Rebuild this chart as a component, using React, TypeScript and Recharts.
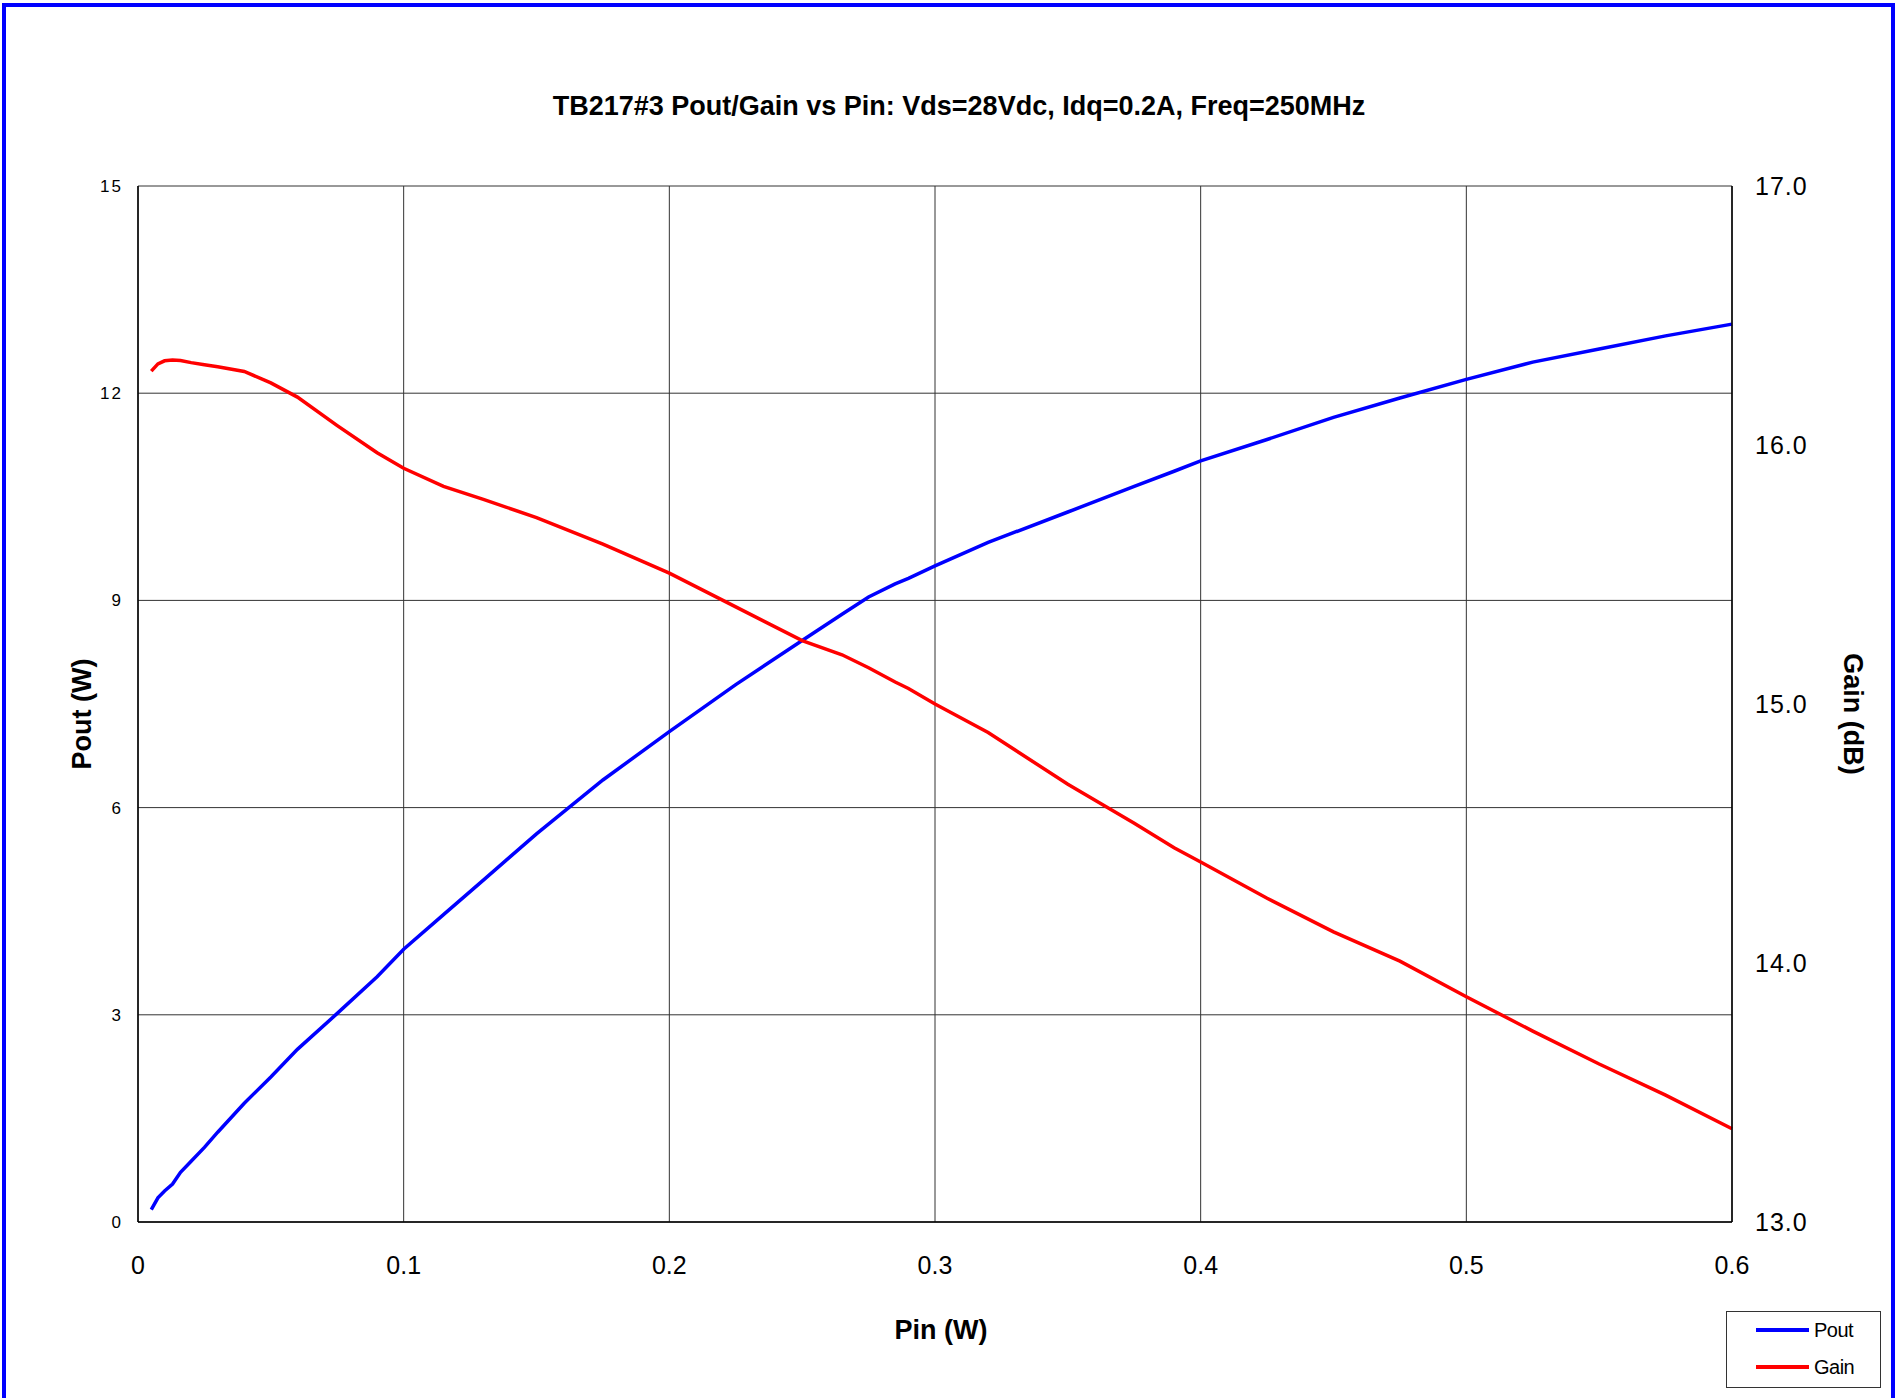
import React from 'react';
import { CartesianGrid, Legend, Line, LineChart, XAxis, YAxis } from 'recharts';

// Pin (W) sample points
const pinW = [
  0.005, 0.0075, 0.01, 0.013, 0.016, 0.02, 0.025, 0.03, 0.04, 0.05, 0.06, 0.075,
  0.09, 0.1, 0.115, 0.13, 0.15, 0.175, 0.2, 0.225, 0.25, 0.265, 0.275, 0.285,
  0.29, 0.3, 0.32, 0.35, 0.375, 0.39, 0.4, 0.425, 0.45, 0.475, 0.5, 0.525, 0.55,
  0.575, 0.6,
];

const poutW = [
  0.18, 0.35, 0.45, 0.55, 0.72, 0.88, 1.08, 1.3, 1.72, 2.1, 2.5, 3.02,
  3.55, 3.95, 4.45, 4.95, 5.62, 6.4, 7.1, 7.78, 8.42, 8.8, 9.05, 9.24,
  9.32, 9.5, 9.84, 10.28, 10.65, 10.87, 11.02, 11.33, 11.65, 11.93, 12.2, 12.45, 12.64,
  12.83, 13.0,
];

const gainDb = [
  16.285, 16.313, 16.325, 16.328, 16.326, 16.318, 16.31, 16.302, 16.284, 16.24, 16.185, 16.075,
  15.97, 15.91, 15.84, 15.79, 15.72, 15.617, 15.505, 15.375, 15.245, 15.19, 15.14, 15.085,
  15.06, 15.0, 14.89, 14.69, 14.54, 14.445, 14.39, 14.25, 14.12, 14.007, 13.87, 13.737, 13.61,
  13.49, 13.36,
];

const xTicks = [0, 0.1, 0.2, 0.3, 0.4, 0.5, 0.6];
const poutTicks = [0, 3, 6, 9, 12, 15];
const gainTicks = [13, 14, 15, 16, 17];

const data = pinW.map((pin, i) => ({ pin, pout: poutW[i], gain: gainDb[i] }));

const FONT = '"Liberation Sans", Arial, sans-serif';

const LegendBox = () => (
  <div
    style={{
      boxSizing: 'border-box',
      width: 155,
      height: 77,
      border: '1px solid #333',
      background: '#fff',
      fontFamily: FONT,
      fontSize: 20,
      color: '#000',
      position: 'relative',
    }}
  >
    {[
      { name: 'Pout', color: '#0000ff', top: 18 },
      { name: 'Gain', color: '#ff0000', top: 55 },
    ].map((item) => (
      <div key={item.name}>
        <div
          style={{
            position: 'absolute',
            left: 29,
            top: item.top - 2,
            width: 53,
            height: 4,
            background: item.color,
          }}
        />
        <div
          style={{
            position: 'absolute',
            left: 87,
            top: item.top - 12,
            lineHeight: '24px',
            letterSpacing: -0.5,
          }}
        >
          {item.name}
        </div>
      </div>
    ))}
  </div>
);

const App = () => {
  return (
    <div
      style={{
        position: 'absolute',
        left: 0,
        top: 0,
        width: 1898,
        height: 1398,
        overflow: 'hidden',
        background: '#fff',
        fontFamily: FONT,
      }}
    >
      <div
        style={{
          position: 'absolute',
          left: 2,
          top: 3,
          width: 1893,
          height: 1500,
          boxSizing: 'border-box',
          border: '4px solid #0000ff',
        }}
      />
      <div
        style={{
          position: 'absolute',
          left: 459,
          top: 91,
          width: 1000,
          textAlign: 'center',
          fontSize: 27,
          lineHeight: '30px',
          fontWeight: 'bold',
          color: '#000',
        }}
      >
        TB217#3 Pout/Gain vs Pin: Vds=28Vdc, Idq=0.2A, Freq=250MHz
      </div>

      <div style={{ position: 'absolute', left: 0, top: 0 }}>
        <LineChart
          width={1898}
          height={1398}
          data={data}
          margin={{ top: 186, right: 46, bottom: 116, left: 78 }}
        >
          <CartesianGrid yAxisId="left" stroke="#333" strokeWidth={1} />
          <XAxis
            dataKey="pin"
            type="number"
            domain={[0, 0.6]}
            ticks={xTicks}
            tickFormatter={(v) => (v === 0 ? '0' : String(v))}
            height={60}
            tickLine={false}
            tickSize={0}
            tickMargin={34}
            axisLine={{ stroke: '#000', strokeWidth: 1.5 }}
            tick={{ fill: '#000', fontSize: 25, fontFamily: FONT }}
          />
          <YAxis
            yAxisId="left"
            domain={[0, 15]}
            ticks={poutTicks}
            width={60}
            tickLine={false}
            tickSize={0}
            tickMargin={15}
            axisLine={{ stroke: '#000', strokeWidth: 1.5 }}
            tick={{ fill: '#000', fontSize: 17, fontFamily: FONT, letterSpacing: 2 }}
          />
          <YAxis
            yAxisId="right"
            orientation="right"
            domain={[13, 17]}
            ticks={gainTicks}
            tickFormatter={(v) => v.toFixed(1)}
            width={120}
            tickLine={false}
            tickSize={0}
            tickMargin={23}
            axisLine={{ stroke: '#000', strokeWidth: 1.5 }}
            tick={{ fill: '#000', fontSize: 25, fontFamily: FONT, letterSpacing: 1 }}
          />
          <Legend
            layout="vertical"
            align="center"
            verticalAlign="middle"
            content={() => <LegendBox />}
            wrapperStyle={{ left: 1726, top: 1311, width: 155, height: 77 }}
          />
          <Line
            yAxisId="left"
            type="linear"
            dataKey="pout"
            name="Pout"
            stroke="#0000ff"
            strokeWidth={3.5}
            dot={false}
            isAnimationActive={false}
          />
          <Line
            yAxisId="right"
            type="linear"
            dataKey="gain"
            name="Gain"
            stroke="#ff0000"
            strokeWidth={3.5}
            dot={false}
            isAnimationActive={false}
          />
        </LineChart>
      </div>

      <div
        style={{
          position: 'absolute',
          left: 841,
          top: 1315,
          width: 200,
          textAlign: 'center',
          fontSize: 27,
          lineHeight: '30px',
          fontWeight: 'bold',
          color: '#000',
        }}
      >
        Pin (W)
      </div>
      <div
        style={{
          position: 'absolute',
          left: -18,
          top: 699,
          width: 200,
          textAlign: 'center',
          fontSize: 27,
          lineHeight: '30px',
          fontWeight: 'bold',
          color: '#000',
          transform: 'rotate(-90deg)',
        }}
      >
        Pout (W)
      </div>
      <div
        style={{
          position: 'absolute',
          left: 1753,
          top: 699,
          width: 200,
          textAlign: 'center',
          fontSize: 27,
          lineHeight: '30px',
          fontWeight: 'bold',
          color: '#000',
          transform: 'rotate(90deg)',
        }}
      >
        Gain (dB)
      </div>
    </div>
  );
};

export default App;
